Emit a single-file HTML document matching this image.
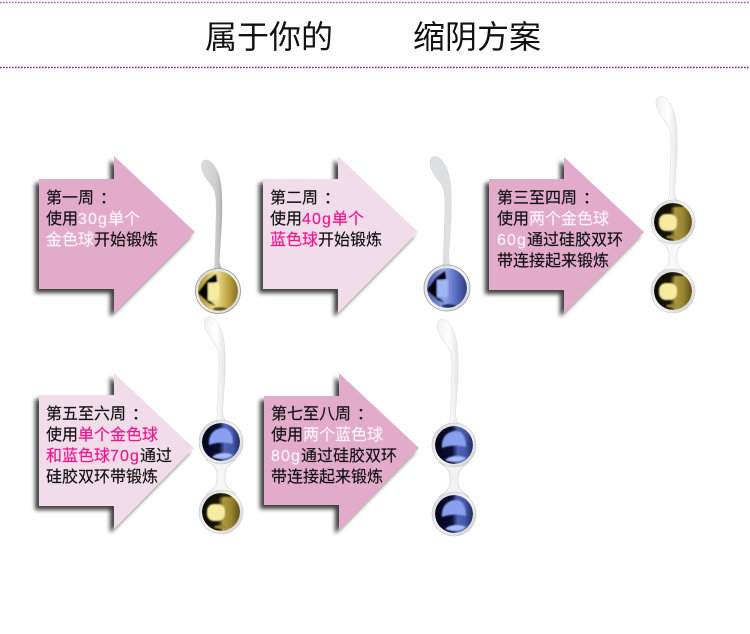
<!DOCTYPE html>
<html lang="zh">
<head>
<meta charset="utf-8">
<style>
html,body{margin:0;padding:0;background:#fff}
#p{position:relative;width:750px;height:634px;overflow:hidden;background:#fff}
.t{position:absolute;top:16px;font:32px/38px "WenQuanYi Zen Hei","Noto Sans CJK SC",sans-serif;color:#111;white-space:nowrap}
.x{position:absolute;font:16px/21px "Liberation Sans","Noto Sans CJK SC",sans-serif;color:#111;white-space:nowrap;-webkit-text-stroke:.15px currentColor}
.w{color:#fdf3f8}.m{color:#f0148c}
.c{position:relative;left:6px}
.n{letter-spacing:1.1px}
svg{position:absolute;left:0;top:0}
</style>
</head>
<body>
<div id="p">
<svg width="750" height="634" viewBox="0 0 750 634">
<defs>
<filter id="sh" x="-20%" y="-20%" width="140%" height="140%">
<feGaussianBlur in="SourceAlpha" stdDeviation="2"/>
<feOffset dx="-4" dy="4"/>
<feComponentTransfer><feFuncA type="linear" slope="0.75"/></feComponentTransfer>
<feMerge><feMergeNode/><feMergeNode in="SourceGraphic"/></feMerge>
</filter>
<filter id="sf" x="-20%" y="-20%" width="140%" height="140%"><feGaussianBlur stdDeviation="0.7"/></filter>
<clipPath id="c19"><circle r="19"/></clipPath>
<clipPath id="c20"><circle r="20"/></clipPath>
<linearGradient id="ring" x1="0" y1="0" x2="1" y2="1">
<stop offset="0" stop-color="#d2d2d2"/><stop offset=".5" stop-color="#f6f6f6"/><stop offset="1" stop-color="#cccccc"/>
</linearGradient>
<linearGradient id="tg" x1="0" y1="0" x2="1" y2="0">
<stop offset="0" stop-color="#dcdcdc"/><stop offset=".6" stop-color="#d0d0d0"/><stop offset="1" stop-color="#a4a4a4"/>
</linearGradient>
<linearGradient id="tw" x1="0" y1="0" x2="1" y2="0">
<stop offset="0" stop-color="#f0f0f0"/><stop offset=".5" stop-color="#fff"/><stop offset="1" stop-color="#dcdcdc"/>
</linearGradient>
<linearGradient id="gs" x1="0" y1="0" x2="1" y2="0">
<stop offset="0" stop-color="#a88a2a"/><stop offset=".45" stop-color="#efe39a"/><stop offset=".7" stop-color="#c7ae4e"/><stop offset="1" stop-color="#85701f"/>
</linearGradient>
<linearGradient id="bs" x1="0" y1="0" x2="1" y2="0">
<stop offset="0" stop-color="#4a5cb4"/><stop offset=".45" stop-color="#8ea3e6"/><stop offset=".7" stop-color="#5e71c4"/><stop offset="1" stop-color="#2f3b86"/>
</linearGradient>
<linearGradient id="gd" x1="0" y1="0" x2="1" y2="0">
<stop offset="0" stop-color="#0c0a02"/><stop offset=".42" stop-color="#1a1505"/><stop offset=".56" stop-color="#ad9840"/><stop offset=".78" stop-color="#97842f"/><stop offset="1" stop-color="#5f4f18"/>
</linearGradient>
<linearGradient id="bd" x1="0" y1="0" x2="1" y2="0">
<stop offset="0" stop-color="#04051a"/><stop offset=".45" stop-color="#0b1034"/><stop offset=".6" stop-color="#4f63b8"/><stop offset=".8" stop-color="#4558a6"/><stop offset="1" stop-color="#202b62"/>
</linearGradient>

<path id="tail" d="M-17,-124 C-18,-133 -9,-134 -4,-126 C3,-116 5,-104 4,-70 L1.5,-30 C2,-25 4,-22 7,-19 L-7,-19 C-4,-22 -3.5,-25 -3.5,-30 L-2,-80 C-2,-96 -3,-101 -8,-107 C-13,-113 -16,-118 -17,-124 Z"/>
<path id="tail2" d="M-17,-118 C-18,-127 -9,-128 -4,-120 C3,-110 5,-98 4,-66 L1.5,-30 C2,-25 4,-22 7,-19 L-7,-19 C-4,-22 -3.5,-25 -3.5,-30 L-2,-76 C-2,-90 -3,-95 -8,-101 C-13,-107 -16,-112 -17,-118 Z"/>

<g id="gs1">
<circle r="22.5" fill="url(#ring)" stroke="#9c9c9c" stroke-width=".8"/>
<g clip-path="url(#c20)">
<circle r="20" fill="url(#gs)"/>
<g filter="url(#sf)">
<path d="M-20,2 L-11,-10 L-2,-17 L-1,-9 L-10,-7 L-10,9 L-2,15 L-9,12 Z" fill="#050300"/>
<rect x="-10" y="-8" width="11" height="17" fill="#f5eca0"/>
<ellipse cx="2" cy="18" rx="7" ry="1.8" fill="#5a4a12"/>
</g>
</g>
</g>
<g id="bs1">
<circle r="23" fill="url(#ring)" stroke="#9c9c9c" stroke-width=".8"/>
<g clip-path="url(#c20)">
<circle r="20" fill="url(#bs)"/>
<g filter="url(#sf)">
<path d="M-20,2 L-11,-10 L-2,-17 L-1,-9 L-10,-7 L-10,9 L-2,15 L-9,12 Z" fill="#03030f"/>
<rect x="-10" y="-8" width="11" height="17" fill="#9fb5f2"/>
<ellipse cx="2" cy="18" rx="7" ry="1.8" fill="#1d2760"/>
</g>
</g>
</g>
<g id="gd1">
<circle r="22" fill="url(#ring)" stroke="#cccccc" stroke-width=".6"/>
<g clip-path="url(#c19)">
<circle r="19" fill="url(#gd)"/>
<g filter="url(#sf)">
<path d="M-19,-19 L12,-19 L10,-15 C2,-16 -6,-14 -14,-8 Z" fill="#100c02" opacity=".85"/>
<rect x="-14" y="-8" width="18" height="17" rx="7" fill="#f6eb9e"/>
<ellipse cx="-1" cy="15" rx="6" ry="1.6" fill="#9a8836"/>
</g>
</g>
</g>
<g id="bd1">
<circle r="22" fill="url(#ring)" stroke="#c4c4c4" stroke-width=".6"/>
<g clip-path="url(#c19)">
<circle r="19" fill="url(#bd)"/>
<g filter="url(#sf)">
<path d="M-12,3 C-13,-9 -5,-14 2,-14 C9,-14 12,-7 12,2 C5,0 -5,0 -12,3 Z" fill="#88a0ee"/>
<path d="M-9,15 C-4,10 6,10 12,13 C7,18 -3,18 -9,15 Z" fill="#aabdf8"/>
</g>
</g>
</g>
<path id="conn" d="M-15,-17 C-7,-12 -5,-9 -4,-4 L-4,4 C-5,9 -7,12 -15,17 L15,17 C7,12 5,9 4,4 L4,-4 C5,-9 7,-12 15,-17 Z"/>
</defs>

<line x1="0" y1="2.5" x2="750" y2="2.5" stroke="#9a2fa8" stroke-width="1.4" stroke-dasharray="1.6 1.4" opacity=".8"/>
<line x1="0" y1="67.5" x2="750" y2="67.5" stroke="#8a1f9c" stroke-width="1.4" stroke-dasharray="1.6 1.4"/>

<!-- arrows -->
<polygon points="39,179 114,179 114,156 195,232 114,313 114,289 39,289" fill="#e3abca" filter="url(#sh)"/>
<polygon points="263,179 338,179 338,156 418,232 338,313 338,289 263,289" fill="#f1dce9" filter="url(#sh)"/>
<polygon points="489,179 564,179 564,157 644,232 564,313 564,290 489,290" fill="#e3abca" filter="url(#sh)"/>
<polygon points="39,395 114,395 114,373 194,448 114,529 114,506 39,506" fill="#f1dce9" filter="url(#sh)"/>
<polygon points="264,396 339,396 339,373 419,448 339,530 339,505 264,505" fill="#e3abca" filter="url(#sh)"/>

<!-- ball 1 -->
<g transform="translate(218,291)"><use href="#tail" fill="url(#tg)"/><use href="#gs1"/></g>
<!-- ball 2 -->
<g transform="translate(447,288)"><use href="#tail" fill="#dedfe0" stroke="#cfcfcf" stroke-width=".5"/><use href="#bs1"/></g>
<!-- ball 3 -->
<g transform="translate(673,222)">
<use href="#tail2" fill="url(#tw)" stroke="#dfdfdf" stroke-width=".6"/>
<use href="#conn" transform="translate(0,35)" fill="#f8f8f8" stroke="#d8d8d8" stroke-width=".6"/>
<use href="#gd1"/><use href="#gd1" y="69"/>
</g>
<!-- ball 4 -->
<g transform="translate(221,442)">
<use href="#tail2" fill="url(#tw)" stroke="#dfdfdf" stroke-width=".6"/>
<use href="#conn" transform="translate(0,35)" fill="#f6f6f6" stroke="#d2d2d2" stroke-width=".6"/>
<use href="#bd1"/><use href="#gd1" y="70"/>
</g>
<!-- ball 5 -->
<g transform="translate(454,445)">
<use href="#tail2" fill="url(#tw)" stroke="#dfdfdf" stroke-width=".6"/>
<use href="#conn" transform="translate(0,34.5)" fill="#f2f2f2" stroke="#cccccc" stroke-width=".6"/>
<use href="#bd1"/><use href="#bd1" y="69"/>
</g>
</svg>

<div class="t" style="left:205px">属于你的</div>
<div class="t" style="left:413px">缩阴方案</div>

<div class="x" style="left:46px;top:188px">第一周<span class="c">：</span><br>使用<span class="w"><span class="n">30g</span>单个</span><br><span class="w">金色球</span>开始锻炼</div>
<div class="x" style="left:270px;top:188px">第二周<span class="c">：</span><br>使用<span class="m"><span class="n">40g</span>单个</span><br><span class="m">蓝色球</span>开始锻炼</div>
<div class="x" style="left:497px;top:188px">第三至四周<span class="c">：</span><br>使用<span class="w">两个金色球</span><br><span class="w n">60g</span>通过硅胶双环<br>带连接起来锻炼</div>
<div class="x" style="left:46px;top:404px">第五至六周<span class="c">：</span><br>使用<span class="m">单个金色球</span><br><span class="m">和蓝色球<span class="n">70g</span></span>通过<br>硅胶双环带锻炼</div>
<div class="x" style="left:271px;top:404px">第七至八周<span class="c">：</span><br>使用<span class="w">两个蓝色球</span><br><span class="w n">80g</span>通过硅胶双环<br>带连接起来锻炼</div>
</div>
</body>
</html>
